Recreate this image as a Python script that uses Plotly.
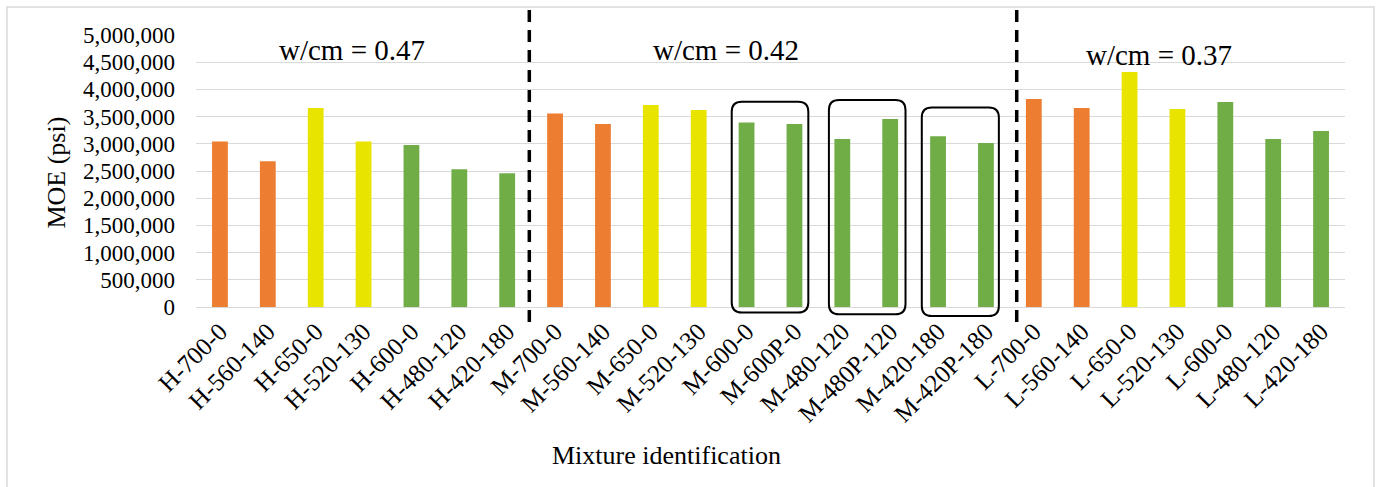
import plotly.graph_objects as go

categories = ["H-700-0", "H-560-140", "H-650-0", "H-520-130", "H-600-0", "H-480-120", "H-420-180",
              "M-700-0", "M-560-140", "M-650-0", "M-520-130", "M-600-0", "M-600P-0", "M-480-120",
              "M-480P-120", "M-420-180", "M-420P-180",
              "L-700-0", "L-560-140", "L-650-0", "L-520-130", "L-600-0", "L-480-120", "L-420-180"]
moe = [3044000, 2681000, 3657000, 3044000, 2976000, 2534000, 2460000,
       3559000, 3362000, 3712000, 3620000, 3393000, 3362000, 3086000,
       3454000, 3141000, 3013000,
       3822000, 3657000, 4319000, 3638000, 3767000, 3086000, 3233000]
groups = ["orange", "orange", "yellow", "yellow", "green", "green", "green",
          "orange", "orange", "yellow", "yellow", "green", "green", "green",
          "green", "green", "green",
          "orange", "orange", "yellow", "yellow", "green", "green", "green"]
group_colors = {"orange": "#ED7D31", "yellow": "#E8E400", "green": "#70AD47"}
wcm_labels = ["w/cm = 0.47", "w/cm = 0.42", "w/cm = 0.37"]
y_ticks = list(range(0, 5000001, 500000))

FONT = "Liberation Serif"

fig = go.Figure()
fig.add_trace(go.Bar(
    x=categories, y=moe,
    marker=dict(color=[group_colors[g] for g in groups], line=dict(width=0)),
    width=0.33, showlegend=False,
))

shapes = []
# outer chart border
shapes.append(dict(type="rect", xref="paper", yref="paper", x0=-0.1645, x1=1.0252, y0=-0.70, y1=1.103,
                   line=dict(color="#D9D9D9", width=1.5), fillcolor="rgba(0,0,0,0)", layer="below"))
# dashed separators
for xv in [6.462, 16.643]:
    shapes.append(dict(type="line", xref="x", yref="paper", x0=xv, x1=xv, y0=1.092, y1=-0.056,
                       line=dict(color="black", width=3.5, dash="12px,8px")))


def rounded(x0, x1, y0, y1, rx=0.21, ry=0.037):
    return (f"M {x0+rx},{y1} L {x1-rx},{y1} Q {x1},{y1} {x1},{y1-ry} "
            f"L {x1},{y0+ry} Q {x1},{y0} {x1-rx},{y0} "
            f"L {x0+rx},{y0} Q {x0},{y0} {x0},{y0+ry} "
            f"L {x0},{y1-ry} Q {x0},{y1} {x0+rx},{y1} Z")


for (bx0, bx1, by0, by1) in [(10.69, 12.29, -0.0206, 0.7545),
                              (12.72, 14.32, -0.0269, 0.7608),
                              (14.66, 16.27, -0.0331, 0.7339)]:
    shapes.append(dict(type="path", xref="x", yref="paper", path=rounded(bx0, bx1, by0, by1),
                       line=dict(color="black", width=2), fillcolor="rgba(0,0,0,0)"))

annotations = []
for txt, xp, yp in zip(wcm_labels, [0.1358, 0.4613, 0.8381], [0.9448, 0.9448, 0.9264]):
    annotations.append(dict(text=txt, x=xp, y=yp, xref="paper", yref="paper", showarrow=False,
                            xanchor="center", yanchor="middle", font=dict(family=FONT, size=29, color="black")))
annotations.append(dict(text="Mixture identification", x=0.4095, y=-0.546, xref="paper", yref="paper",
                        showarrow=False, xanchor="center", yanchor="middle",
                        font=dict(family=FONT, size=26, color="black")))
annotations.append(dict(text="MOE (psi)", x=-0.121, y=0.494, xref="paper", yref="paper", textangle=-90,
                        showarrow=False, xanchor="center", yanchor="middle",
                        font=dict(family=FONT, size=26, color="black")))

fig.update_layout(
    width=1377, height=487,
    margin=dict(l=196, r=32, t=35, b=180.3, autoexpand=False),
    paper_bgcolor="white", plot_bgcolor="white",
    font=dict(family=FONT, size=23, color="black"),
    shapes=shapes, annotations=annotations,
    xaxis=dict(type="category", range=[-0.5, 23.5], tickangle=-45, showgrid=False, zeroline=False,
               showline=False, ticks="", ticklabelstandoff=4,
               tickfont=dict(family=FONT, size=25, color="black")),
    yaxis=dict(range=[0, 5000000], tickvals=y_ticks, tickformat=",", showgrid=True,
               gridcolor="#D9D9D9", gridwidth=1.3, zeroline=True, zerolinecolor="#D9D9D9",
               zerolinewidth=1.3, showline=False, ticks="", ticklabelstandoff=20,
               tickfont=dict(family=FONT, size=23, color="black")),
    bargap=0.67,
)

fig.write_html("out.html")
